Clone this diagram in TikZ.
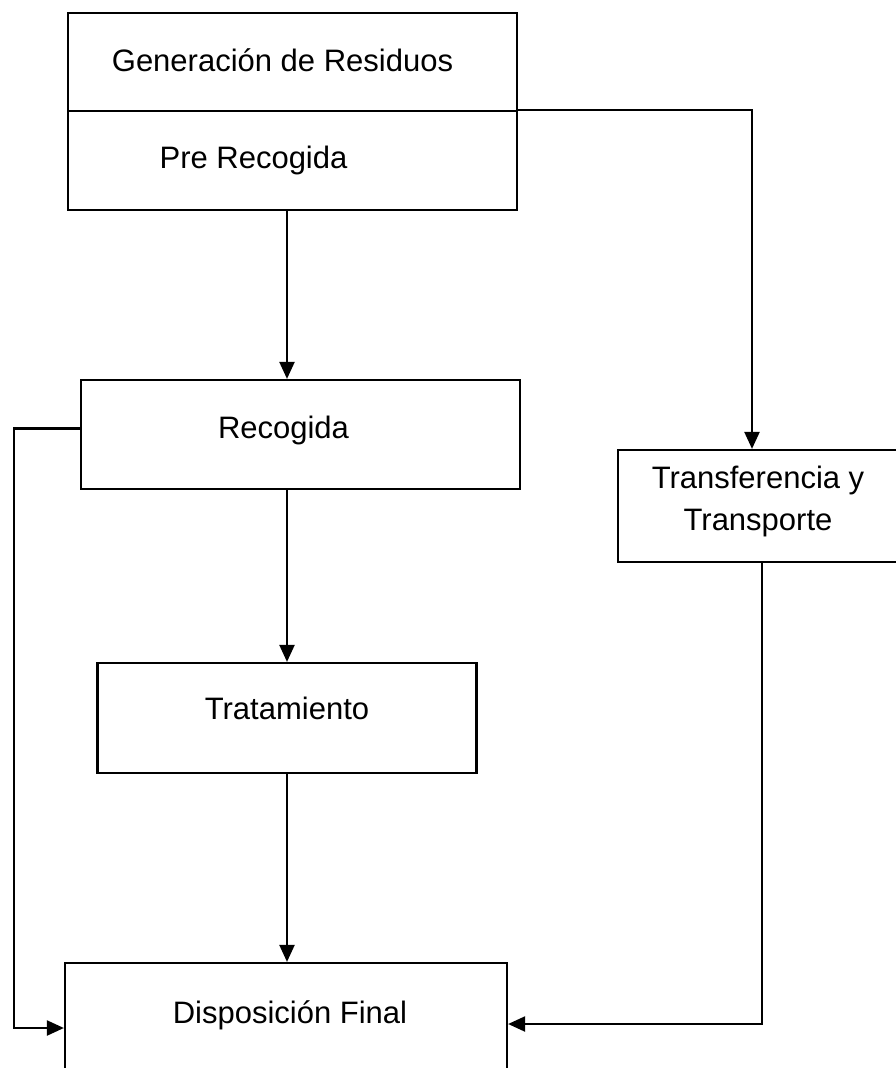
\documentclass[tikz,border=0pt]{standalone}
\usepackage{fontspec}
\setmainfont{Liberation Sans}
\usetikzlibrary{arrows.meta,positioning}

\begin{document}
\begin{tikzpicture}[x=1pt,y=-1pt,
  % Node styles
  stage/.style={
    rectangle,
    draw=black,
    line width=2.2pt,
    inner sep=0pt,
    font=\fontsize{31}{42}\selectfont,
    align=center,
  },
  steptext/.style={
    font=\fontsize{31}{42}\selectfont,
    align=center,
  },
  arrow/.style={
    -{Triangle[length=17pt,width=15pt]},
    line width=2.2pt,
  },
]
\useasboundingbox (0,0) rectangle (896,1068);
\clip (0,0) rectangle (896,1068);

% ── Top box: two stacked halves ──
\node[stage, minimum width=449pt, minimum height=98pt,
  label={[steptext, xshift=-10pt, yshift=2pt]center:Generación de Residuos}]
  (gen) at (292.5,62) {};
\node[stage, minimum width=449pt, minimum height=99pt,
  label={[steptext, xshift=-39pt]center:Pre Recogida}]
  (pre) at (292.5,160.5) {};

% ── Middle column ──
\node[stage, minimum width=439pt, minimum height=109pt,
  label={[steptext, xshift=-17pt, yshift=4pt]center:Recogida}]
  (rec) at (300.5,434.5) {};
\node[stage, minimum width=379pt, minimum height=110pt,
  label={[steptext, yshift=10pt]center:Tratamiento}]
  (trat) at (287,718) {};

% ── Right branch ──
\node[stage, minimum width=280pt, minimum height=112pt,
  label={[steptext, yshift=5pt]center:Transferencia y\\Transporte}]
  (trans) at (758,506) {};

% ── Bottom box (cut by the page edge) ──
\node[stage, minimum width=442pt, minimum height=130pt,
  label={[steptext, xshift=4pt, yshift=13pt]center:Disposición Final}]
  (disp) at (286,1028) {};

% ── Arrows ──
\coordinate (leftbus) at (14,428.5);

% Pre Recogida → Transferencia
\draw[arrow] (pre.north east) -| ([xshift=-6pt]trans.north);

% Main column
\draw[arrow] (pre.south -| trat) -- (rec.north -| trat);
\draw[arrow] (rec.south -| trat) -- (trat.north);
\draw[arrow] (trat.south) -- (disp.north -| trat);

% Recogida → Disposición (left side)
\draw[arrow] ([yshift=6pt]rec.west) -- (leftbus) |- (disp.west);

% Transferencia → Disposición (right side)
\draw[arrow] ([xshift=4pt]trans.south) |- ([yshift=4pt]disp.east);

\end{tikzpicture}
\end{document}
